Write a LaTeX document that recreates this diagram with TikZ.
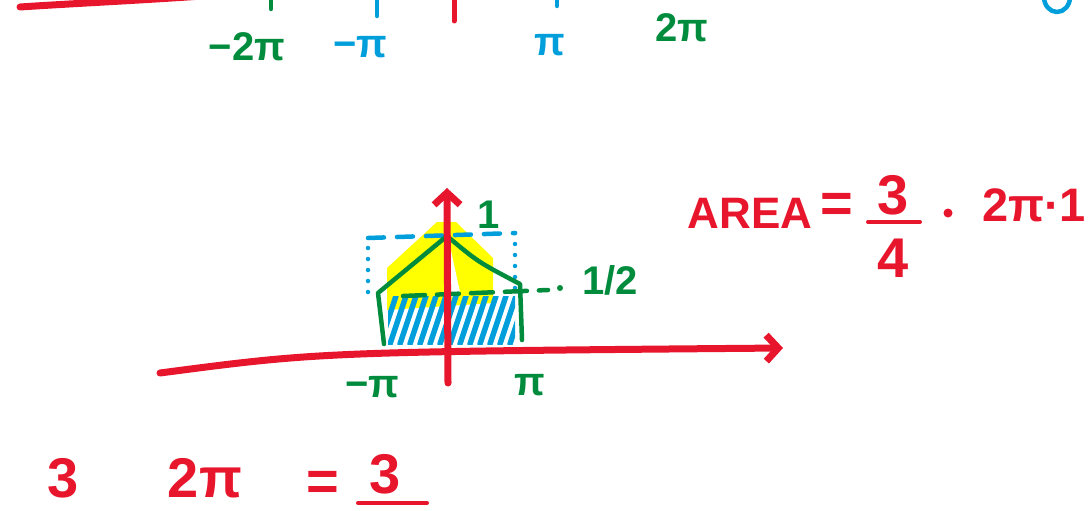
\documentclass[tikz,border=0pt]{standalone}
\usepackage{fontspec}
\setmainfont{Liberation Sans}
\usetikzlibrary{arrows.meta}
\definecolor{inkred}{RGB}{232,22,44}
\definecolor{inkgreen}{RGB}{0,140,60}
\definecolor{inkblue}{RGB}{0,158,219}
\definecolor{hiyellow}{RGB}{255,255,0}
\tikzset{
  redink/.style={draw=inkred,line width=7pt,line cap=round,line join=round},
  greenink/.style={draw=inkgreen,line width=4.5pt,line cap=round,line join=round},
  blueink/.style={draw=inkblue,line width=4.5pt,line cap=round,line join=round},
  axistip/.style={-{Straight Barb[length=12pt,width=26pt]}},
  ticklbl/.style={font=\fontsize{40}{44}\selectfont\bfseries,inner sep=0pt},
  eqlbl/.style={font=\fontsize{56}{60}\selectfont\bfseries,inner sep=0pt,text=inkred}
}
\begin{document}
\begin{tikzpicture}[x=1pt,y=-1pt]
  \useasboundingbox (0,0) rectangle (1089,511);
  \clip (0,0) rectangle (1089,511);
  % top strip, cut at the upper edge
  \draw[redink] (20,7) .. controls (80,3) and (150,0) .. (230,-6);
  \draw[greenink] (271,-5) -- (271,9);
  \draw[blueink] (377,-5) -- (377,16);
  \draw[redink,line width=5pt] (454,-5) -- (454,21);
  \draw[blueink] (557,-5) -- (557,6);
  \draw[blueink] (1057,-3) ellipse [x radius=13, y radius=15];
  \node[ticklbl,text=inkgreen] (mtwopi) at (247,47) {−2π};
  \node[ticklbl,text=inkblue] (mpi) at (360,47) {−π};
  \node[ticklbl,text=inkblue] (pi) at (550,45) {π};
  \node[ticklbl,text=inkgreen] (twopi) at (682,28) {2π};
  % middle sketch
  \fill[hiyellow] (387,268) -- (437,222) -- (456,222) -- (493,258) -- (493,303) -- (387,310) -- cycle;
  \fill[white] (450,246) -- (460,292) -- (450,298) -- cycle;
  \begin{scope}
    \clip (388,296) rectangle (515,344);
    \foreach \x in {380,390,...,520} {\draw[blueink,line width=5.5pt] (\x,344) -- (\x+16,296);}
  \end{scope}
  \draw[blueink,dash pattern=on 0pt off 11pt] (368,292) -- (368,238);
  \draw[blueink,dash pattern=on 16pt off 13pt] (368,238) -- (515,233);
  \draw[blueink,dash pattern=on 0pt off 11pt] (515,233) -- (515,290);
  \draw[greenink] (384,344) -- (378,293) -- (447,236) .. controls (478,262) .. (520,284) -- (522,340);
  \draw[greenink,dash pattern=on 22pt off 12pt] (403,296) -- (548,290);
  \fill[inkgreen] (560,288) circle (3);
  \coordinate (xl) at (160,373);
  \coordinate (xr) at (783,348);
  \coordinate (yb) at (448,383);
  \coordinate (yt) at (447,188);
  \draw[redink,axistip] (xl) .. controls (320,352) .. (xr);
  \draw[redink,axistip] (yb) -- (yt);
  \node[ticklbl,text=inkgreen] (one) at (489,215) {1};
  \node[ticklbl,text=inkgreen] (half) at (610,280) {1/2};
  \node[ticklbl,text=inkgreen] (mpib) at (372,387) {−π};
  \node[ticklbl,text=inkgreen] (pib) at (530,385) {π};
  % area
  \node[eqlbl,font=\fontsize{44}{48}\selectfont\bfseries] (area) at (750,213) {AREA};
  \node[eqlbl] (eqa) at (837,208) {=};
  \node[eqlbl] (num) at (893,195) {3};
  \node[eqlbl] (den) at (893,258) {4};
  \draw[redink,line width=4pt] (868,222) -- (920,222);
  \fill[inkred] (948,213) circle (4.5);
  \node[eqlbl,font=\fontsize{47}{50}\selectfont\bfseries,anchor=west] (tail) at (982,205) {2π·1};
  % bottom line, near the lower edge
  \node[eqlbl] (bnum) at (63,478) {3};
  \node[eqlbl] (btwopi) at (205,478) {2π};
  \node[eqlbl] (beq) at (323,486) {=};
  \node[eqlbl] (bthree) at (385,474) {3};
  \draw[redink,line width=4pt] (358,503) -- (427,503);
\end{tikzpicture}
\end{document}
